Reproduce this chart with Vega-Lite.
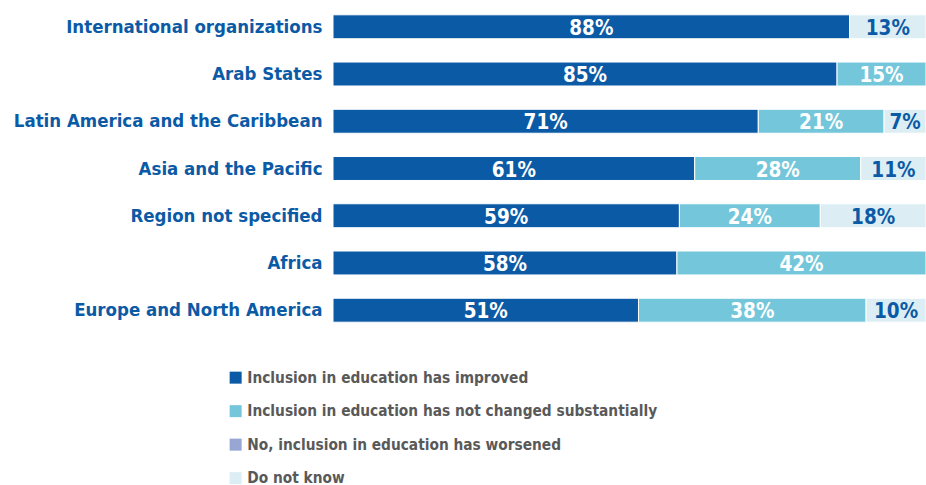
{
  "$schema": "https://vega.github.io/schema/vega-lite/v6.json",
  "width": 593,
  "height": 331,
  "autosize": "none",
  "padding": {"left": 333, "top": 3, "right": 0, "bottom": 151},
  "background": "white",
  "config": {"view": {"stroke": null}, "font": "DejaVu Sans Condensed"},
  "data": {
    "values": [
      {"region": "International organizations", "cat": "Inclusion in education has improved", "k": 1, "v": 88},
      {"region": "International organizations", "cat": "Do not know", "k": 4, "v": 13},
      {"region": "Arab States", "cat": "Inclusion in education has improved", "k": 1, "v": 85},
      {"region": "Arab States", "cat": "Inclusion in education has not changed substantially", "k": 2, "v": 15},
      {"region": "Latin America and the Caribbean", "cat": "Inclusion in education has improved", "k": 1, "v": 71},
      {"region": "Latin America and the Caribbean", "cat": "Inclusion in education has not changed substantially", "k": 2, "v": 21},
      {"region": "Latin America and the Caribbean", "cat": "Do not know", "k": 4, "v": 7},
      {"region": "Asia and the Pacific", "cat": "Inclusion in education has improved", "k": 1, "v": 61},
      {"region": "Asia and the Pacific", "cat": "Inclusion in education has not changed substantially", "k": 2, "v": 28},
      {"region": "Asia and the Pacific", "cat": "Do not know", "k": 4, "v": 11},
      {"region": "Region not specified", "cat": "Inclusion in education has improved", "k": 1, "v": 59},
      {"region": "Region not specified", "cat": "Inclusion in education has not changed substantially", "k": 2, "v": 24},
      {"region": "Region not specified", "cat": "Do not know", "k": 4, "v": 18},
      {"region": "Africa", "cat": "Inclusion in education has improved", "k": 1, "v": 58},
      {"region": "Africa", "cat": "Inclusion in education has not changed substantially", "k": 2, "v": 42},
      {"region": "Europe and North America", "cat": "Inclusion in education has improved", "k": 1, "v": 51},
      {"region": "Europe and North America", "cat": "Inclusion in education has not changed substantially", "k": 2, "v": 38},
      {"region": "Europe and North America", "cat": "Do not know", "k": 4, "v": 10}
    ]
  },
  "transform": [
    {"stack": "v", "groupby": ["region"], "sort": [{"field": "k"}], "offset": "normalize", "as": ["x0", "x1"]},
    {"calculate": "datum.v + '%'", "as": "lab"},
    {"calculate": "(datum.x0 + datum.x1) / 2", "as": "xm"}
  ],
  "encoding": {
    "y": {
      "field": "region",
      "type": "nominal",
      "sort": ["International organizations", "Arab States", "Latin America and the Caribbean", "Asia and the Pacific", "Region not specified", "Africa", "Europe and North America"],
      "scale": {"paddingInner": 0.493, "paddingOuter": 0.25},
      "axis": {
        "title": null,
        "domain": false,
        "ticks": false,
        "labelPadding": 11,
        "labelFontSize": 18.5,
        "labelFontWeight": "bold",
        "labelColor": "#0B5AA6",
        "labelLimit": 400,
        "labelFont": "DejaVu Sans Condensed"
      }
    }
  },
  "layer": [
    {
      "mark": {"type": "bar", "stroke": "white", "strokeWidth": 1},
      "encoding": {
        "x": {"field": "x0", "type": "quantitative", "scale": {"domain": [0, 1]}, "axis": null},
        "x2": {"field": "x1"},
        "color": {
          "field": "cat",
          "type": "nominal",
          "scale": {
            "domain": ["Inclusion in education has improved", "Inclusion in education has not changed substantially", "No, inclusion in education has worsened", "Do not know"],
            "range": ["#0B5AA6", "#74C7DB", "#98A6D3", "#DCEEF4"]
          },
          "legend": {
            "title": null,
            "orient": "none",
            "legendX": -105,
            "legendY": 367,
            "symbolType": "square",
            "symbolSize": 144,
            "symbolStrokeWidth": 0,
            "labelFontSize": 15.3,
            "labelFontWeight": "bold",
            "labelColor": "#595959",
            "labelFont": "DejaVu Sans Condensed",
            "labelOffset": 4,
            "labelLimit": 600,
            "rowPadding": 17.5
          }
        }
      }
    },
    {
      "mark": {"type": "text", "fontSize": 20.5, "fontWeight": "bold", "baseline": "middle", "dy": 2, "font": "DejaVu Sans Condensed"},
      "encoding": {
        "x": {"field": "xm", "type": "quantitative"},
        "text": {"field": "lab"},
        "color": {"condition": {"test": "datum.cat === 'Do not know'", "value": "#0B5AA6"}, "value": "white"}
      }
    }
  ]
}
